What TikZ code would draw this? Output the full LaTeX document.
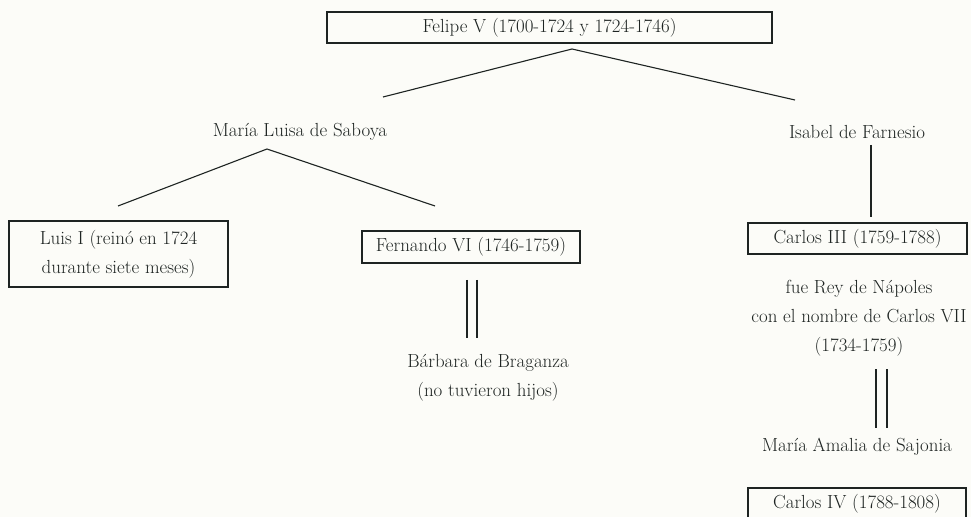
\documentclass[tikz,border=0pt]{standalone}
\usepackage{fontspec}
\definecolor{ink}{RGB}{30,36,34}
\definecolor{paper}{RGB}{252,252,248}
\begin{document}
\begin{tikzpicture}[x=1bp,y=-1bp,
  every node/.style={text=ink,font=\fontsize{19}{29}\selectfont,inner sep=0pt,align=center},
  box/.style={draw=ink,line width=1.2bp},
  link/.style={draw=ink,line width=1.1bp}]
\useasboundingbox (0,0) rectangle (971,517);
\fill[paper] (0,0) rectangle (971,517);
\clip (0,0) rectangle (971,517);
% boxes
\node[box,minimum width=445bp,minimum height=31bp] (felipe) at (549.5,27.5) {Felipe V (1700-1724 y 1724-1746)};
\node[box,minimum width=219bp,minimum height=66bp] (luis) at (118.5,254) {Luis I (reinó en 1724\\durante siete meses)};
\node[box,minimum width=218bp,minimum height=32bp] (fernando) at (471,247) {Fernando VI (1746-1759)};
\node[box,minimum width=219bp,minimum height=31bp] (carlos3) at (857.5,238.5) {Carlos III (1759-1788)};
\node[box,minimum width=218bp,minimum height=32bp] (carlos4) at (857,504) {Carlos IV (1788-1808)};
% plain texts
\node (maria) at (300,132) {María Luisa de Saboya};
\node (isabel) at (857,132) {Isabel de Farnesio};
\node (barbara) at (488,378) {Bárbara de Braganza\\(no tuvieron hijos)};
\node (napoles) at (859,318) {fue Rey de Nápoles\\con el nombre de Carlos VII\\(1734-1759)};
\node (amalia) at (857,447) {María Amalia de Sajonia};
% connector points
\coordinate (fa) at (572,49);
\coordinate (fl) at (383,97);
\coordinate (fr) at (795,100);
\coordinate (ma) at (267,149);
\coordinate (ml) at (118,206);
\coordinate (mr) at (435,206);
\coordinate (it) at (871,145);
\coordinate (ib) at (871,217);
% connectors
\draw[link] (fl) -- (fa) -- (fr);
\draw[link] (ml) -- (ma) -- (mr);
\draw[link] (it) -- (ib);
\draw[link] (467,280) -- (467,338);
\draw[link] (477,280) -- (477,338);
\draw[link] (876,369) -- (876,428);
\draw[link] (887,369) -- (887,428);
\end{tikzpicture}
\end{document}
